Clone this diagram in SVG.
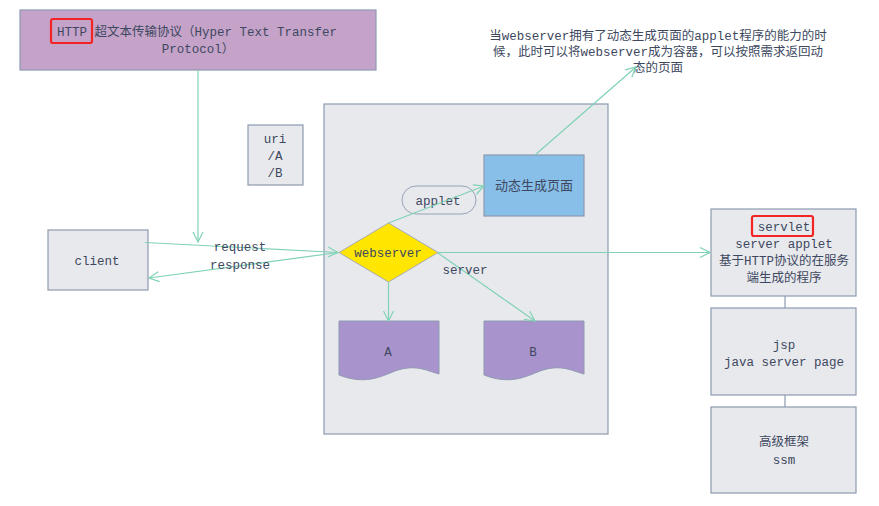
<svg xmlns="http://www.w3.org/2000/svg" width="879" height="506" viewBox="0 0 879 506">
<style>
text{font-family:"Liberation Mono","Noto Sans CJK SC",monospace;font-size:12.5px;fill:#3d4860;text-anchor:middle}
.box{fill:#e8e9ed;stroke:#8c9ab0;stroke-width:1.2}
.doc{fill:#a993cc;stroke:#8c9ab0;stroke-width:1}
.c{fill:none;stroke:#80d2b6;stroke-width:1.2}
.red{fill:none;stroke:#f42424;stroke-width:2.2}
</style>
<defs>
<marker id="ah" viewBox="0 0 12 12" refX="11" refY="6" markerWidth="12" markerHeight="12" markerUnits="userSpaceOnUse" orient="auto">
<path d="M1,1 L11,6 L1,11" fill="none" stroke="#80d2b6" stroke-width="1.2"/>
</marker>
</defs>
<rect width="879" height="506" fill="#ffffff"/>

<g id="http">
<rect x="20" y="10" width="356" height="60" fill="#c5a3c9" stroke="#8c9ab0" stroke-width="1.2"/>
<text x="197" y="36">HTTP 超文本传输协议（Hyper Text Transfer</text>
<text x="198" y="53">Protocol）</text>
<rect class="red" x="51" y="19" width="41" height="24" rx="2"/>
</g>

<g id="note">
<text x="658" y="40">当webserver拥有了动态生成页面的applet程序的能力的时</text>
<text x="658" y="56">候，此时可以将webserver成为容器，可以按照需求返回动</text>
<text x="658" y="72">态的页面</text>
</g>

<g id="container">
<rect class="box" x="324" y="104" width="284" height="330"/>
</g>

<g id="uri">
<rect class="box" x="248" y="125" width="55" height="60"/>
<text x="275" y="143">uri</text>
<text x="275" y="160">/A</text>
<text x="275" y="177">/B</text>
</g>

<g id="client">
<rect class="box" x="48" y="230" width="100" height="60"/>
<text x="97" y="265">client</text>
</g>

<g id="dynamic">
<rect x="484" y="155" width="100" height="61" fill="#88bfe8" stroke="#8c9ab0" stroke-width="1.2"/>
<text x="534" y="190" style="font-size:13px">动态生成页面</text>
</g>

<g id="applet">
<rect x="402" y="186" width="74" height="28" rx="14" fill="none" stroke="#96a2b6" stroke-width="1"/>
<text x="438" y="205">applet</text>
</g>

<g id="webserver">
<polygon points="339,252.5 388.5,223 438,252.5 388.5,282" fill="#ffe600" stroke="#a8aab0" stroke-width="1"/>
<text x="388" y="257">webserver</text>
</g>

<g id="docA">
<path class="doc" d="M339,321 H439 V374 C425,370 415,364 395,371 C380,377 365,385 339,375 Z"/>
<text x="388" y="356">A</text>
</g>
<g id="docB">
<path class="doc" d="M484,321 H584 V374 C570,370 560,364 540,371 C525,377 510,385 484,375 Z"/>
<text x="533" y="356">B</text>
</g>

<g id="servlet">
<rect class="box" x="711" y="209" width="145" height="87"/>
<text x="784" y="231">servlet</text>
<text x="784" y="248">server applet</text>
<text x="784" y="265">基于HTTP协议的在服务</text>
<text x="784" y="282">端生成的程序</text>
<rect class="red" x="752" y="216" width="61" height="20" rx="2"/>
</g>

<g id="jsp">
<rect class="box" x="711" y="308" width="145" height="87"/>
<text x="784" y="349">jsp</text>
<text x="784" y="366">java server page</text>
</g>

<g id="framework">
<rect class="box" x="711" y="407" width="145" height="86"/>
<text x="784" y="446">高级框架</text>
<text x="784" y="464">ssm</text>
</g>

<g id="connectors">
<line class="c" x1="198" y1="70" x2="198" y2="242" marker-end="url(#ah)"/>
<line class="c" x1="145" y1="242.5" x2="338" y2="252.5" marker-end="url(#ah)"/>
<line class="c" x1="338" y1="252.5" x2="149" y2="278" marker-end="url(#ah)"/>
<line class="c" x1="388.5" y1="223" x2="484" y2="186" marker-end="url(#ah)"/>
<line class="c" x1="535" y1="155" x2="636" y2="67" marker-end="url(#ah)"/>
<line class="c" x1="438" y1="252.5" x2="710" y2="252.5" marker-end="url(#ah)"/>
<line class="c" x1="388.5" y1="282" x2="388.5" y2="321" marker-end="url(#ah)"/>
<line class="c" x1="438" y1="253" x2="535" y2="321" marker-end="url(#ah)"/>
<line x1="785" y1="296" x2="785" y2="308" stroke="#8c9ab0" stroke-width="1.2"/>
<line x1="785" y1="395" x2="785" y2="407" stroke="#8c9ab0" stroke-width="1.2"/>
<text x="240" y="251">request</text>
<text x="240" y="269">response</text>
<text x="465" y="274">server</text>
</g>
</svg>
